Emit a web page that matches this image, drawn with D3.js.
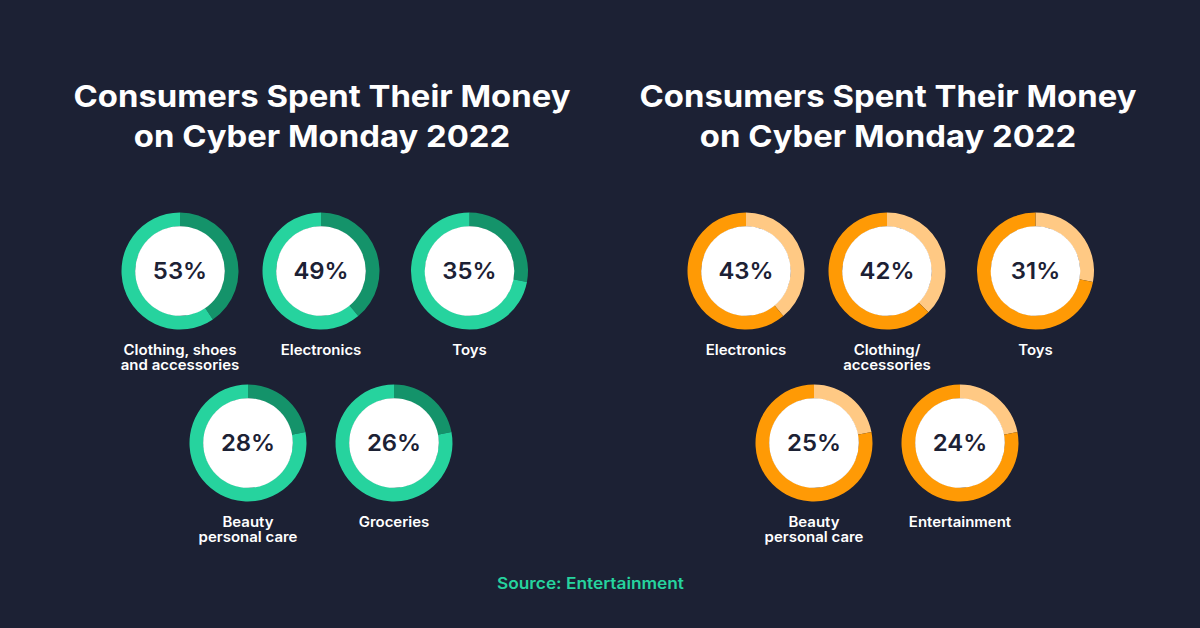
<!DOCTYPE html>
<html>
<head>
<meta charset="utf-8">
<script src="https://cdn.jsdelivr.net/npm/d3@7/dist/d3.min.js"></script>
<style>
  html, body { margin: 0; padding: 0; background: #1c2134; }
  svg { display: block; }
</style>
</head>
<body>
<svg id="chart" width="1200" height="628"></svg>
<script>
// ---------- data ----------
const titleLines = ["Consumers Spent Their Money", "on Cyber Monday 2022"];
const sourceText = "Source: Entertainment";

const leftCategories = ["Clothing, shoes\nand accessories", "Electronics", "Toys", "Beauty\npersonal care", "Groceries"];
const leftValues = [53, 49, 35, 28, 26];
// share of the ring drawn in the accent colour
const leftArcShares = [40.5, 39, 28, 22, 22];

const rightCategories = ["Electronics", "Clothing/\naccessories", "Toys", "Beauty\npersonal care", "Entertainment"];
const rightValues = [43, 42, 31, 25, 24];
const rightArcShares = [39, 37.5, 28, 22, 22];

// ---------- layout / style ----------
const W = 1200, H = 628;
const bg = "#1c2134";
const panels = [
  { cx: 322, cats: leftCategories, vals: leftValues, shares: leftArcShares,
    accent: "#14936a", base: "#26d39e" },
  { cx: 888, cats: rightCategories, vals: rightValues, shares: rightArcShares,
    accent: "#ffc984", base: "#ff9a05" }
];
const rows = [{ y: 271, offsets: [-142, -1, 147.5] }, { y: 443, offsets: [-74, 72] }];
const rOuter = 58.5, rInner = 44.5;
const font = "Inter, Lato, 'Open Sans', sans-serif";

// widen text to mimic the wide geometric face of the original
function stretch(sel, ratio) {
  sel.each(function () {
    const w = this.getComputedTextLength();
    d3.select(this).attr("textLength", w * ratio).attr("lengthAdjust", "spacingAndGlyphs");
  });
}

const svg = d3.select("#chart");
svg.append("rect").attr("width", W).attr("height", H).attr("fill", bg);

const pie = d3.pie().sort(null).value(d => d);
const arc = d3.arc().innerRadius(rInner).outerRadius(rOuter);

panels.forEach(p => {
  const g = svg.append("g");
  titleLines.forEach((t, i) => {
    g.append("text")
      .attr("x", p.cx)
      .attr("y", 107 + i * 39.5)
      .attr("text-anchor", "middle")
      .attr("fill", "#ffffff")
      .attr("font-family", font)
      .attr("font-weight", 700)
      .attr("font-size", 30)
      .text(t)
      .call(stretch, 1.095);
  });

  const slots = [];
  rows.forEach(r => r.offsets.forEach(o => slots.push({ x: p.cx + o, y: r.y })));

  p.vals.forEach((v, i) => {
    const s = slots[i];
    const dg = g.append("g").attr("transform", `translate(${s.x},${s.y})`);
    const share = p.shares[i];
    dg.selectAll("path")
      .data(pie([share, 100 - share]))
      .join("path")
      .attr("d", arc)
      .attr("fill", (d, j) => j === 0 ? p.accent : p.base);
    dg.append("circle").attr("r", rInner + 0.3).attr("fill", "#ffffff");
    dg.append("text")
      .attr("text-anchor", "middle")
      .attr("dy", "0.36em")
      .attr("fill", "#1c2134")
      .attr("font-family", font)
      .attr("font-weight", 600)
      .attr("font-size", 23)
      .text(v + "%")
      .call(stretch, 1.04);
    p.cats[i].split("\n").forEach((line, k) => {
      dg.append("text")
        .attr("x", 0)
        .attr("y", 84 + k * 15)
        .attr("text-anchor", "middle")
        .attr("fill", "#ffffff")
        .attr("font-family", font)
        .attr("font-weight", 600)
        .attr("font-size", 14)
        .text(line)
        .call(stretch, 1.07);
    });
  });
});

svg.append("text")
  .attr("x", 590.5)
  .attr("y", 589)
  .attr("text-anchor", "middle")
  .attr("fill", "#26d39e")
  .attr("font-family", font)
  .attr("font-weight", 600)
  .attr("font-size", 16)
  .text(sourceText)
  .call(stretch, 1.08);
</script>
</body>
</html>
